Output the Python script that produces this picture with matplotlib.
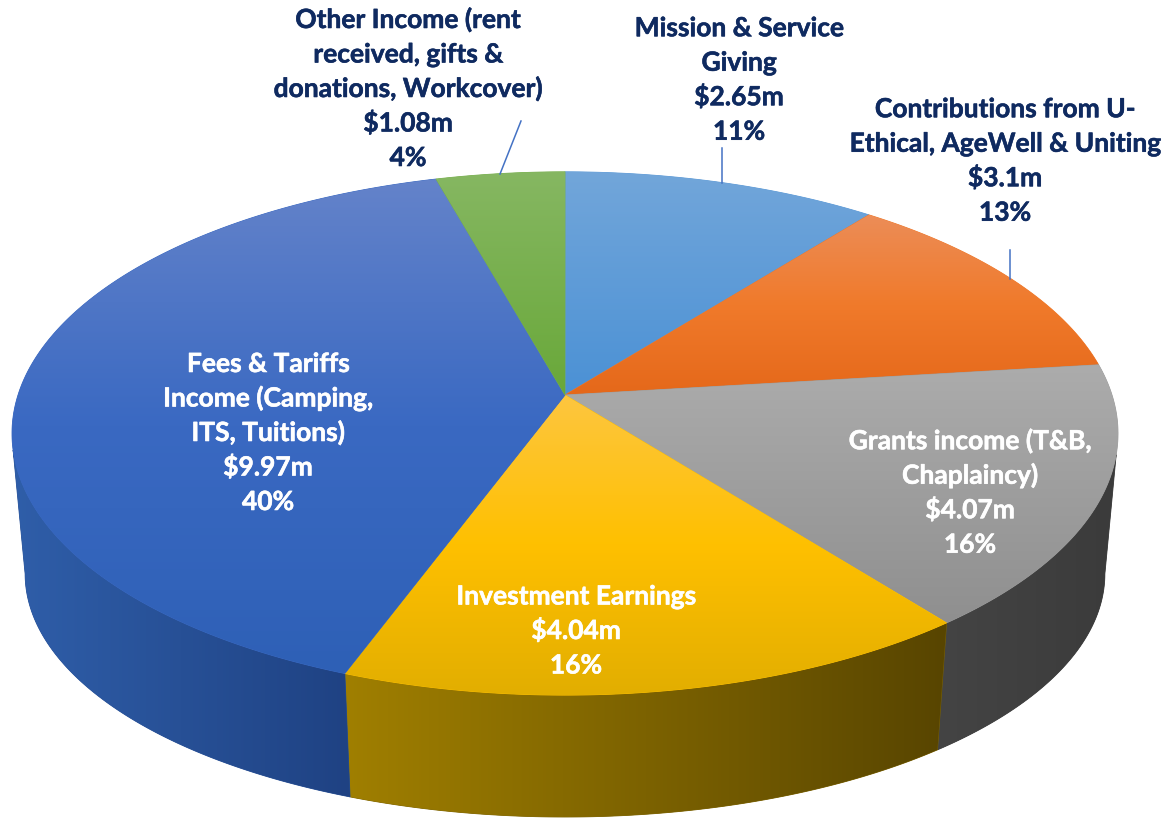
import numpy as np
import matplotlib
matplotlib.use('Agg')
import matplotlib.pyplot as plt
import matplotlib.patheffects as pe
from matplotlib.colors import LinearSegmentedColormap
from matplotlib.patches import Polygon

# slices, clockwise from 12 o'clock
names = ['Mission & Service\nGiving',
         'Contributions from U-\nEthical, AgeWell & Uniting',
         'Grants income (T&B,\nChaplaincy)',
         'Investment Earnings',
         'Fees & Tariffs\nIncome (Camping,\nITS, Tuitions)',
         'Other Income (rent\nreceived, gifts &\ndonations, Workcover)']
values = [2.65, 3.1, 4.07, 4.04, 9.97, 1.08]
percents = [11, 13, 16, 16, 40, 4]

top_colors = [['#72a6da', '#4b91d5'],
              ['#ec8d58', '#f07a2b', '#e5681a'],
              ['#acacac', '#8f8f8f'],
              ['#fdc640', '#ffc000', '#e2ae00'],
              ['#6483ca', '#3a69c2', '#2e60b6'],
              ['#86b762', '#69a839']]
wall_colors = [None, None,
               ['#444444', '#3b3b3b'],
               ['#a07f00', '#584500'],
               ['#2f5ea9', '#1f4283'],
               None]
label_pos = [(739, 88), (1005, 169), (970, 501), (576, 639), (268, 441), (408, 97)]
label_colors = ['#0f2a60', '#0f2a60', 'white', 'white', 'white', '#0f2a60']
leaders = [((722, 183), (722, 148)), ((1010, 279), (1010, 250)), ((500, 174), (521, 121))]

CX, CY = 565, 395
RX, RY = 547, 256
K = 0.147
BOTTOM_RX, BOTTOM_RY, BOTTOM_CY = 534, 238, 538
LINE_STEP = 34.5


def project(theta, rx=RX, ry=RY, cy=CY):
    u, v = np.sin(theta), np.cos(theta)
    s = 1 / (1 + K * v)
    return CX + rx * u * s, cy - ry * v * s


def gradient_fill(ax, pts, colors, horizontal=False):
    cmap = LinearSegmentedColormap.from_list('g', colors)
    poly = Polygon(pts, closed=True, fc=cmap(0.5), ec=cmap(0.5), lw=0.6, zorder=2)
    ax.add_patch(poly)
    grad = np.linspace(0, 1, 256)
    grad = grad.reshape(1, -1) if horizontal else grad.reshape(-1, 1)
    x0, y0 = pts.min(axis=0)
    x1, y1 = pts.max(axis=0)
    im = ax.imshow(grad, cmap=cmap, extent=(x0, x1, y1, y0), aspect='auto',
                   origin='upper', zorder=2, interpolation='bilinear')
    im.set_clip_path(poly)


fig = plt.figure(figsize=(11.65, 8.22), dpi=100)
ax = fig.add_axes([0, 0, 1, 1])
ax.axis('off')

total = sum(values)
edges = np.cumsum([0] + values) / total * 2 * np.pi

# side walls first, the top surface covers the rest
for i in range(len(values)):
    if wall_colors[i] is None:
        continue
    ta = np.linspace(max(edges[i], np.radians(103)), min(edges[i + 1], np.radians(258)), 200)
    tb = np.linspace(max(edges[i], np.radians(98.5)), min(edges[i + 1], np.radians(261.5)), 200)
    xa, ya = project(ta)
    xb, yb = project(tb[::-1], BOTTOM_RX, BOTTOM_RY, BOTTOM_CY)
    pts = np.column_stack([np.r_[xa, xb], np.r_[ya, yb]])
    gradient_fill(ax, pts, wall_colors[i], horizontal=True)

# top surface
for i in range(len(values)):
    t = np.linspace(edges[i], edges[i + 1], 200)
    x, y = project(t)
    pts = np.column_stack([np.r_[CX, x], np.r_[CY, y]])
    gradient_fill(ax, pts, top_colors[i])

for a, b in leaders:
    ax.plot([a[0], b[0]], [a[1], b[1]], color='#4472c4', lw=1.1, zorder=3)

# one text per line, the line step is even this way
for i in range(len(values)):
    lines = f'{names[i]}\n${values[i]}m\n{percents[i]}%'.split('\n')
    for j, line in enumerate(lines):
        y = label_pos[i][1] + (j - (len(lines) - 1) / 2) * LINE_STEP
        ax.text(label_pos[i][0], y, line, ha='center', va='baseline',
                family='Lato', weight='bold', fontsize=19,
                color=label_colors[i], zorder=4,
                path_effects=[pe.withStroke(linewidth=0.4, foreground=label_colors[i])])

ax.set_xlim(0, 1165)
ax.set_ylim(822, 0)
fig.savefig('out.png', dpi=100, facecolor='white')
